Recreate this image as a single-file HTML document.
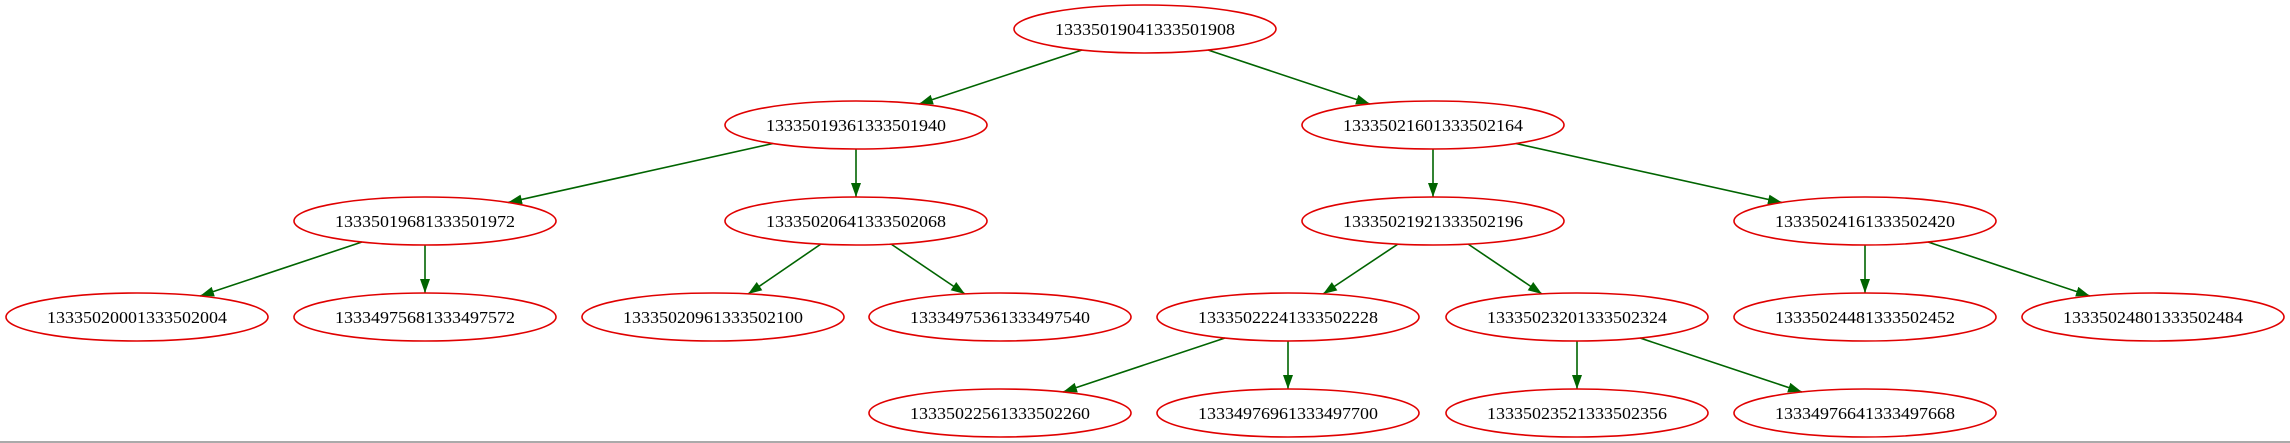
<!DOCTYPE html>
<html><head><meta charset="utf-8"><style>
html,body{margin:0;padding:0;background:#fff;width:2290px;height:443px;overflow:hidden}
text{font-family:"Liberation Serif",serif;font-size:17px;fill:#000}
</style></head><body>
<svg width="2290" height="443" viewBox="0 0 2290 443" xmlns="http://www.w3.org/2000/svg">
<defs><marker id="a" markerUnits="userSpaceOnUse" markerWidth="15" markerHeight="11" refX="14" refY="5" orient="auto"><path d="M0,0 L14,5 L0,10 z" fill="#006400"/></marker></defs>
<line x1="0" y1="442" x2="2290" y2="442" stroke="#aaa" stroke-width="2"/>
<g stroke="#006400" stroke-width="1.6" marker-end="url(#a)">
<line x1="1082" y1="50" x2="919" y2="104"/>
<line x1="1208" y1="50" x2="1370" y2="104"/>
<line x1="773" y1="143.5" x2="508" y2="202.5"/>
<line x1="856" y1="149" x2="856" y2="197"/>
<line x1="1433" y1="149" x2="1433" y2="197"/>
<line x1="1516" y1="143.5" x2="1782" y2="202.5"/>
<line x1="362" y1="242" x2="200" y2="296"/>
<line x1="425" y1="245" x2="425" y2="293"/>
<line x1="821" y1="244" x2="748" y2="294"/>
<line x1="891" y1="244" x2="965" y2="294"/>
<line x1="1398" y1="244" x2="1323" y2="294"/>
<line x1="1468" y1="244" x2="1542" y2="294"/>
<line x1="1865" y1="245" x2="1865" y2="293"/>
<line x1="1928" y1="242" x2="2090" y2="296"/>
<line x1="1225" y1="338" x2="1063" y2="392"/>
<line x1="1288" y1="341" x2="1288" y2="389"/>
<line x1="1577" y1="341" x2="1577" y2="389"/>
<line x1="1640" y1="338" x2="1802" y2="392"/>
</g>
<g fill="none" stroke="#e00000" stroke-width="1.6">
<ellipse cx="1145" cy="29" rx="131" ry="24"/>
<ellipse cx="856" cy="125" rx="131" ry="24"/>
<ellipse cx="1433" cy="125" rx="131" ry="24"/>
<ellipse cx="425" cy="221" rx="131" ry="24"/>
<ellipse cx="856" cy="221" rx="131" ry="24"/>
<ellipse cx="1433" cy="221" rx="131" ry="24"/>
<ellipse cx="1865" cy="221" rx="131" ry="24"/>
<ellipse cx="137" cy="317" rx="131" ry="24"/>
<ellipse cx="425" cy="317" rx="131" ry="24"/>
<ellipse cx="713" cy="317" rx="131" ry="24"/>
<ellipse cx="1000" cy="317" rx="131" ry="24"/>
<ellipse cx="1288" cy="317" rx="131" ry="24"/>
<ellipse cx="1577" cy="317" rx="131" ry="24"/>
<ellipse cx="1865" cy="317" rx="131" ry="24"/>
<ellipse cx="2153" cy="317" rx="131" ry="24"/>
<ellipse cx="1000" cy="413" rx="131" ry="24"/>
<ellipse cx="1288" cy="413" rx="131" ry="24"/>
<ellipse cx="1577" cy="413" rx="131" ry="24"/>
<ellipse cx="1865" cy="413" rx="131" ry="24"/>
</g>
<g text-anchor="middle">
<text x="1145" y="35" textLength="180" lengthAdjust="spacingAndGlyphs">13335019041333501908</text>
<text x="856" y="131" textLength="180" lengthAdjust="spacingAndGlyphs">13335019361333501940</text>
<text x="1433" y="131" textLength="180" lengthAdjust="spacingAndGlyphs">13335021601333502164</text>
<text x="425" y="227" textLength="180" lengthAdjust="spacingAndGlyphs">13335019681333501972</text>
<text x="856" y="227" textLength="180" lengthAdjust="spacingAndGlyphs">13335020641333502068</text>
<text x="1433" y="227" textLength="180" lengthAdjust="spacingAndGlyphs">13335021921333502196</text>
<text x="1865" y="227" textLength="180" lengthAdjust="spacingAndGlyphs">13335024161333502420</text>
<text x="137" y="323" textLength="180" lengthAdjust="spacingAndGlyphs">13335020001333502004</text>
<text x="425" y="323" textLength="180" lengthAdjust="spacingAndGlyphs">13334975681333497572</text>
<text x="713" y="323" textLength="180" lengthAdjust="spacingAndGlyphs">13335020961333502100</text>
<text x="1000" y="323" textLength="180" lengthAdjust="spacingAndGlyphs">13334975361333497540</text>
<text x="1288" y="323" textLength="180" lengthAdjust="spacingAndGlyphs">13335022241333502228</text>
<text x="1577" y="323" textLength="180" lengthAdjust="spacingAndGlyphs">13335023201333502324</text>
<text x="1865" y="323" textLength="180" lengthAdjust="spacingAndGlyphs">13335024481333502452</text>
<text x="2153" y="323" textLength="180" lengthAdjust="spacingAndGlyphs">13335024801333502484</text>
<text x="1000" y="419" textLength="180" lengthAdjust="spacingAndGlyphs">13335022561333502260</text>
<text x="1288" y="419" textLength="180" lengthAdjust="spacingAndGlyphs">13334976961333497700</text>
<text x="1577" y="419" textLength="180" lengthAdjust="spacingAndGlyphs">13335023521333502356</text>
<text x="1865" y="419" textLength="180" lengthAdjust="spacingAndGlyphs">13334976641333497668</text>
</g>
</svg>
</body></html>
